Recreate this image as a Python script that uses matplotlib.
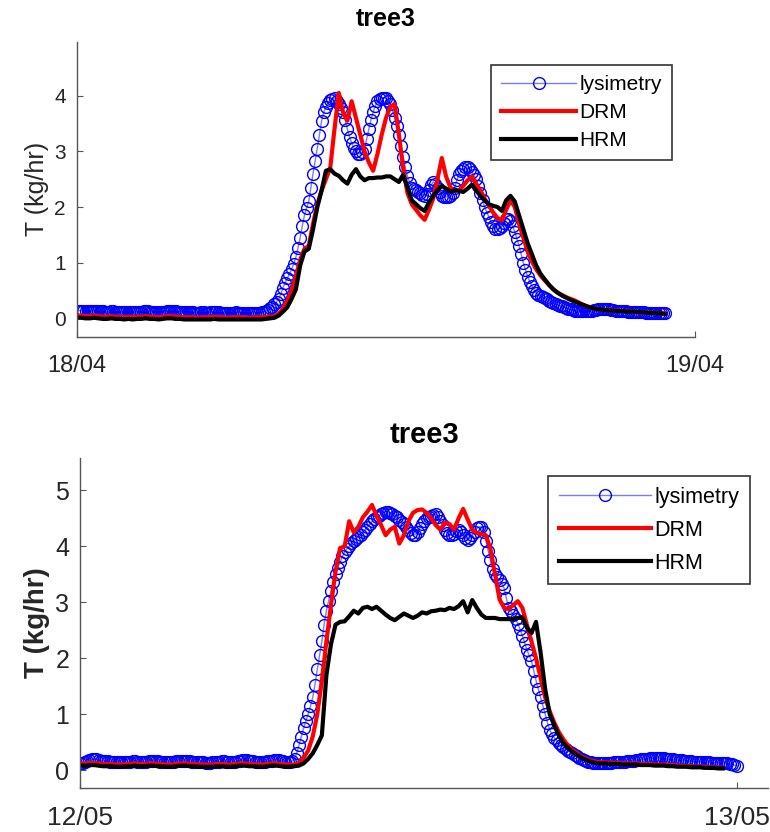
import numpy as np
import matplotlib.pyplot as plt

plt.rcParams['font.family'] = ['Liberation Sans', 'DejaVu Sans']

# lysimetry logged every 5 min, the two models every 10 min (kg/hr)
lys_step_h = 5 / 60
mod_step_h = 10 / 60

# ---- 18/04 ----
apr_lys = [0.13, 0.14, 0.14, 0.14, 0.14, 0.13, 0.13, 0.13, 0.14, 0.14,
           0.13, 0.13, 0.13, 0.12, 0.12, 0.12, 0.13, 0.13, 0.12, 0.12,
           0.12, 0.11, 0.11, 0.11, 0.12, 0.12, 0.11, 0.11, 0.12, 0.12,
           0.12, 0.13, 0.13, 0.13, 0.12, 0.12, 0.12, 0.11, 0.11, 0.11,
           0.12, 0.12, 0.13, 0.14, 0.14, 0.14, 0.13, 0.12, 0.12, 0.11,
           0.11, 0.11, 0.12, 0.12, 0.11, 0.10, 0.10, 0.10, 0.11, 0.11,
           0.10, 0.10, 0.11, 0.11, 0.12, 0.12, 0.11, 0.10, 0.10, 0.09,
           0.09, 0.09, 0.10, 0.10, 0.11, 0.10, 0.10, 0.10, 0.10, 0.09,
           0.09, 0.09, 0.10, 0.10, 0.10, 0.10, 0.11, 0.12, 0.13, 0.15,
           0.18, 0.21, 0.25, 0.30, 0.35, 0.44, 0.55, 0.64, 0.72, 0.80,
           0.88, 0.98, 1.10, 1.27, 1.45, 1.66, 1.85, 1.98, 2.10, 2.35,
           2.60, 2.83, 3.05, 3.30, 3.55, 3.70, 3.80, 3.87, 3.92, 3.94,
           3.95, 3.91, 3.85, 3.78, 3.70, 3.56, 3.40, 3.26, 3.15, 3.06,
           3.00, 2.96, 2.95, 2.98, 3.05, 3.22, 3.40, 3.57, 3.70, 3.82,
           3.90, 3.94, 3.96, 3.96, 3.95, 3.91, 3.85, 3.74, 3.60, 3.46,
           3.30, 3.10, 2.90, 2.71, 2.55, 2.44, 2.35, 2.32, 2.30, 2.27,
           2.25, 2.22, 2.20, 2.24, 2.30, 2.39, 2.45, 2.41, 2.35, 2.27,
           2.20, 2.18, 2.18, 2.18, 2.20, 2.26, 2.35, 2.48, 2.60, 2.65,
           2.68, 2.71, 2.72, 2.68, 2.62, 2.57, 2.50, 2.38, 2.25, 2.12,
           2.00, 1.90, 1.82, 1.73, 1.65, 1.61, 1.60, 1.62, 1.66, 1.72,
           1.78, 1.78, 1.75, 1.66, 1.55, 1.43, 1.30, 1.15, 1.00, 0.87,
           0.75, 0.66, 0.58, 0.51, 0.45, 0.42, 0.40, 0.38, 0.36, 0.34,
           0.32, 0.30, 0.28, 0.26, 0.24, 0.23, 0.22, 0.20, 0.19, 0.17,
           0.16, 0.15, 0.14, 0.13, 0.13, 0.13, 0.13, 0.13, 0.14, 0.14,
           0.14, 0.15, 0.15, 0.16, 0.17, 0.17, 0.17, 0.16, 0.16, 0.15,
           0.15, 0.14, 0.14, 0.14, 0.14, 0.13, 0.13, 0.12, 0.12, 0.12,
           0.12, 0.12, 0.12, 0.11, 0.11, 0.10, 0.10, 0.10, 0.10, 0.10,
           0.10, 0.09, 0.09, 0.09, 0.09]
apr_drm = [0.05, 0.05, 0.04, 0.04, 0.05, 0.04, 0.03, 0.03, 0.04, 0.03,
           0.03, 0.02, 0.03, 0.02, 0.03, 0.03, 0.04, 0.03, 0.03, 0.02,
           0.03, 0.04, 0.04, 0.03, 0.03, 0.02, 0.02, 0.02, 0.01, 0.02,
           0.02, 0.02, 0.03, 0.02, 0.02, 0.01, 0.02, 0.02, 0.02, 0.02,
           0.01, 0.02, 0.02, 0.02, 0.03, 0.03, 0.04, 0.08, 0.18, 0.32,
           0.50, 0.75, 1.05, 1.25, 1.30, 1.70, 2.05, 2.30, 2.50, 2.70,
           3.40, 4.05, 3.70, 3.55, 3.90, 3.60, 3.30, 3.00, 2.80, 2.65,
           2.95, 3.30, 3.60, 3.80, 3.85, 3.30, 2.70, 2.25, 2.05, 1.95,
           1.85, 1.77, 1.95, 2.15, 2.50, 2.88, 2.55, 2.35, 2.30, 2.30,
           2.38, 2.48, 2.55, 2.42, 2.30, 2.15, 2.02, 1.90, 1.80, 1.76,
           1.95, 2.12, 2.00, 1.70, 1.45, 1.20, 1.02, 0.88, 0.77, 0.68,
           0.60, 0.52, 0.46, 0.42, 0.38, 0.35, 0.32, 0.28, 0.24, 0.21,
           0.19, 0.17, 0.16, 0.15, 0.15, 0.14, 0.14, 0.13, 0.13, 0.12,
           0.12, 0.11, 0.11, 0.10, 0.10, 0.10, 0.09, 0.09]
apr_hrm = [0.01, 0.01, 0.00, 0.00, 0.01, 0.00, -0.01, -0.01, 0.00, -0.01,
           -0.01, -0.02, -0.01, -0.02, -0.01, -0.01, 0.00, -0.01, -0.01, -0.02,
           -0.01, 0.00, 0.00, -0.01, -0.01, -0.02, -0.02, -0.02, -0.02, -0.02,
           -0.02, -0.02, -0.01, -0.02, -0.02, -0.02, -0.02, -0.02, -0.02, -0.02,
           -0.02, -0.02, -0.02, -0.02, -0.01, 0.00, 0.01, 0.05, 0.12, 0.20,
           0.35, 0.52, 0.95, 1.20, 1.25, 1.60, 2.00, 2.30, 2.65, 2.68,
           2.60, 2.56, 2.48, 2.42, 2.58, 2.68, 2.55, 2.48, 2.52, 2.52,
           2.53, 2.53, 2.55, 2.55, 2.50, 2.45, 2.58, 2.35, 2.12, 2.05,
           1.98, 1.93, 2.08, 2.20, 2.30, 2.38, 2.33, 2.28, 2.30, 2.29,
           2.27, 2.33, 2.40, 2.30, 2.20, 2.12, 2.05, 2.02, 2.00, 1.93,
           2.12, 2.20, 2.10, 1.85, 1.60, 1.35, 1.15, 0.95, 0.80, 0.70,
           0.60, 0.52, 0.46, 0.41, 0.37, 0.33, 0.30, 0.27, 0.24, 0.21,
           0.19, 0.17, 0.16, 0.15, 0.14, 0.14, 0.13, 0.13, 0.12, 0.12,
           0.12, 0.11, 0.11, 0.10, 0.10, 0.09, 0.09, 0.08]
apr_days = ['18/04', '19/04']
apr_yticks = [0, 1, 2, 3, 4]

# ---- 12/05 ----
may_lys = [0.12, 0.13, 0.15, 0.17, 0.18, 0.19, 0.19, 0.19, 0.18, 0.17,
           0.17, 0.16, 0.16, 0.15, 0.15, 0.15, 0.15, 0.14, 0.14, 0.14,
           0.14, 0.14, 0.15, 0.16, 0.16, 0.15, 0.15, 0.15, 0.15, 0.15,
           0.16, 0.17, 0.17, 0.17, 0.16, 0.15, 0.15, 0.14, 0.14, 0.14,
           0.15, 0.15, 0.16, 0.17, 0.17, 0.17, 0.17, 0.16, 0.16, 0.15,
           0.15, 0.14, 0.14, 0.14, 0.14, 0.13, 0.13, 0.13, 0.14, 0.14,
           0.15, 0.15, 0.16, 0.16, 0.15, 0.14, 0.14, 0.14, 0.15, 0.16,
           0.17, 0.18, 0.18, 0.18, 0.17, 0.16, 0.16, 0.15, 0.15, 0.15,
           0.15, 0.15, 0.16, 0.16, 0.17, 0.18, 0.18, 0.18, 0.17, 0.16,
           0.15, 0.14, 0.14, 0.16, 0.20, 0.31, 0.45, 0.60, 0.75, 0.88,
           1.00, 1.14, 1.30, 1.53, 1.80, 2.05, 2.30, 2.60, 2.85, 3.03,
           3.20, 3.36, 3.50, 3.62, 3.72, 3.82, 3.90, 3.96, 4.00, 4.06,
           4.10, 4.14, 4.17, 4.21, 4.25, 4.30, 4.35, 4.40, 4.45, 4.49,
           4.52, 4.55, 4.58, 4.60, 4.62, 4.62, 4.60, 4.58, 4.55, 4.52,
           4.48, 4.44, 4.40, 4.35, 4.30, 4.24, 4.20, 4.21, 4.25, 4.33,
           4.40, 4.46, 4.50, 4.53, 4.55, 4.57, 4.58, 4.52, 4.45, 4.38,
           4.30, 4.24, 4.20, 4.20, 4.22, 4.27, 4.30, 4.25, 4.20, 4.15,
           4.12, 4.15, 4.20, 4.26, 4.32, 4.35, 4.35, 4.25, 4.10, 3.92,
           3.75, 3.60, 3.50, 3.45, 3.40, 3.33, 3.25, 3.07, 2.90, 2.84,
           2.78, 2.70, 2.62, 2.52, 2.40, 2.28, 2.15, 2.05, 1.95, 1.78,
           1.60, 1.45, 1.30, 1.15, 1.00, 0.85, 0.72, 0.64, 0.58, 0.53,
           0.48, 0.44, 0.41, 0.38, 0.35, 0.32, 0.30, 0.27, 0.25, 0.22,
           0.20, 0.18, 0.16, 0.15, 0.14, 0.13, 0.13, 0.12, 0.12, 0.12,
           0.13, 0.13, 0.13, 0.13, 0.14, 0.14, 0.15, 0.15, 0.15, 0.15,
           0.16, 0.16, 0.17, 0.17, 0.18, 0.18, 0.19, 0.19, 0.20, 0.20,
           0.21, 0.21, 0.22, 0.22, 0.22, 0.21, 0.21, 0.20, 0.20, 0.19,
           0.19, 0.18, 0.18, 0.18, 0.18, 0.17, 0.17, 0.16, 0.16, 0.15,
           0.15, 0.15, 0.15, 0.14, 0.14, 0.14, 0.14, 0.13, 0.13, 0.13,
           0.13, 0.13, 0.13, 0.12, 0.12, 0.11, 0.10, 0.09, 0.08]
may_drm = [0.12, 0.12, 0.13, 0.13, 0.12, 0.11, 0.11, 0.11, 0.10, 0.10,
           0.11, 0.11, 0.12, 0.11, 0.11, 0.12, 0.12, 0.11, 0.11, 0.10,
           0.10, 0.11, 0.12, 0.12, 0.11, 0.11, 0.10, 0.10, 0.10, 0.10,
           0.11, 0.11, 0.10, 0.10, 0.11, 0.12, 0.12, 0.11, 0.11, 0.10,
           0.10, 0.11, 0.12, 0.12, 0.11, 0.10, 0.10, 0.10, 0.13, 0.22,
           0.35, 0.60, 1.00, 1.60, 2.30, 2.95, 3.55, 3.97, 4.00, 4.45,
           4.25, 4.35, 4.52, 4.62, 4.74, 4.55, 4.38, 4.20, 4.30, 4.35,
           4.05, 4.20, 4.45, 4.60, 4.65, 4.66, 4.60, 4.50, 4.38, 4.30,
           4.42, 4.40, 4.30, 4.50, 4.67, 4.48, 4.30, 4.24, 4.22, 4.20,
           3.95, 3.50, 3.05, 2.90, 2.88, 2.95, 3.02, 2.90, 2.60, 2.30,
           2.00, 1.65, 1.30, 1.05, 0.85, 0.68, 0.55, 0.44, 0.36, 0.30,
           0.24, 0.20, 0.17, 0.15, 0.14, 0.14, 0.13, 0.13, 0.13, 0.12,
           0.12, 0.12, 0.12, 0.11, 0.11, 0.11, 0.10, 0.10, 0.10, 0.09,
           0.09, 0.08, 0.08, 0.07, 0.07, 0.06, 0.06, 0.06, 0.05, 0.05,
           0.04, 0.04]
may_hrm = [0.08, 0.08, 0.09, 0.09, 0.08, 0.07, 0.07, 0.07, 0.06, 0.06,
           0.07, 0.07, 0.08, 0.07, 0.07, 0.08, 0.08, 0.07, 0.07, 0.06,
           0.06, 0.07, 0.08, 0.08, 0.07, 0.07, 0.06, 0.06, 0.06, 0.06,
           0.07, 0.07, 0.06, 0.06, 0.07, 0.08, 0.08, 0.07, 0.07, 0.06,
           0.06, 0.07, 0.08, 0.08, 0.07, 0.06, 0.06, 0.07, 0.08, 0.12,
           0.20, 0.30, 0.45, 0.62, 1.70, 2.25, 2.60, 2.65, 2.66, 2.75,
           2.85, 2.80, 2.90, 2.92, 2.88, 2.92, 2.85, 2.78, 2.72, 2.68,
           2.74, 2.80, 2.76, 2.72, 2.76, 2.82, 2.80, 2.84, 2.85, 2.87,
           2.86, 2.90, 2.88, 2.93, 3.02, 2.82, 3.04, 2.90, 2.78, 2.72,
           2.72, 2.72, 2.70, 2.70, 2.70, 2.70, 2.72, 2.73, 2.55, 2.45,
           2.65, 2.10, 1.45, 1.00, 0.80, 0.62, 0.48, 0.40, 0.33, 0.27,
           0.22, 0.18, 0.15, 0.13, 0.12, 0.12, 0.11, 0.11, 0.11, 0.10,
           0.10, 0.10, 0.10, 0.09, 0.09, 0.09, 0.08, 0.08, 0.08, 0.07,
           0.07, 0.06, 0.06, 0.06, 0.05, 0.05, 0.05, 0.04, 0.04, 0.04,
           0.03, 0.03]
may_days = ['12/05', '13/05']
may_yticks = [0, 1, 2, 3, 4, 5]

grey = '#262626'


def panel(ax, lys, drm, hrm, days, yticks, xmax, ylim, fs, xfs, lfs, lsp, hlen,
          tfs, yfs, ybold, leg_anchor):
    t_lys = np.arange(len(lys)) * lys_step_h
    t_mod = np.arange(len(drm)) * mod_step_h
    ax.plot(t_lys, lys, color='#7a7aff', lw=1, marker='o', ms=8.5,
            mfc='none', mec='blue', mew=1, label='lysimetry')
    ax.plot(t_mod, drm, color='red', lw=3, label='DRM')
    ax.plot(t_mod, hrm, color='black', lw=3, label='HRM')
    ax.set_xlim(0, xmax)
    ax.set_ylim(*ylim)
    ax.set_xticks([0, 24])
    ax.set_xticklabels(days)
    ax.set_yticks(yticks)
    for s in ['top', 'right']:
        ax.spines[s].set_visible(False)
    for s in ['left', 'bottom']:
        ax.spines[s].set_color('#555555')
        ax.spines[s].set_linewidth(1)
    ax.tick_params(axis='both', direction='in', length=4, colors='#555555',
                   labelcolor=grey, labelsize=fs)
    ax.tick_params(axis='x', pad=13, labelsize=xfs)
    ax.tick_params(axis='y', pad=8)
    ax.set_title('tree3', fontsize=tfs, fontweight='bold', pad=11)
    ax.set_ylabel('T (kg/hr)', fontsize=yfs, color=grey,
                  fontweight='bold' if ybold else 'normal')
    leg = ax.legend(loc='upper right', bbox_to_anchor=leg_anchor, fontsize=lfs,
                    handlelength=hlen, handletextpad=0.15, labelspacing=lsp,
                    borderpad=0.5, numpoints=1, fancybox=False, framealpha=1,
                    borderaxespad=0)
    leg.get_frame().set_edgecolor('#333333')
    leg.get_frame().set_linewidth(1.2)


fig = plt.figure(figsize=(7.7, 8.32), dpi=100)
ax1 = fig.add_axes([0.100, 0.5953, 0.8026, 0.3546])
ax2 = fig.add_axes([0.1043, 0.0529, 0.8931, 0.3966])

panel(ax1, apr_lys, apr_drm, apr_hrm, apr_days, apr_yticks, 24, (-0.33, 4.97),
      15, 17, 15, 0.42, 3.6, 18, 18, False, (0.963, 0.921))
panel(ax2, may_lys, may_drm, may_hrm, may_days, may_yticks, 25.15, (-0.32, 5.58),
      18, 19, 15.5, 0.55, 4.3, 21, 20, True, (0.974, 0.945))

fig.savefig('out.png', dpi=100)
